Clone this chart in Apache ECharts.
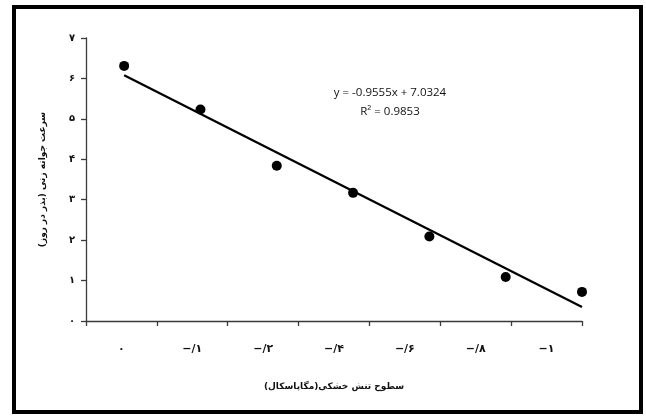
<!DOCTYPE html>
<html>
<head>
<meta charset="utf-8">
<script src="https://cdn.jsdelivr.net/npm/echarts@6/dist/echarts.min.js"></script>
<style>
  html, body { margin: 0; padding: 0; background: #fff; }
  #chart { width: 646px; height: 416px; }
</style>
</head>
<body>
<div id="chart"></div>
<script>
// Drought stress levels (MPa) shown as category labels
const stressLabels = ['۰', '−/۱', '−/۲', '−/۴', '−/۶', '−/۸', '−۱'];
// Position of each observation along the stress axis
const stressIndex = [1, 2, 3, 4, 5, 6, 7];
// Germination rate (seeds per day)
const germRate = [6.31, 5.23, 3.84, 3.17, 2.09, 1.09, 0.72];
// Y-axis tick labels in Persian digits
const rateTicks = ['۰', '۱', '۲', '۳', '۴', '۵', '۶', '۷'];
// Linear trend line fitted to the data
const slope = -0.9555;
const intercept = 7.0324;
const rSquared = 0.9853;

const faFont = 'DejaVu Sans';
const axisColor = '#3a3a3a';

const points = stressIndex.map((x, i) => [x, germRate[i]]);
const xFirst = stressIndex[0];
const xLast = stressIndex[stressIndex.length - 1];
const trend = [
  [xFirst, intercept + slope * xFirst],
  [xLast, intercept + slope * xLast]
];

const chart = echarts.init(document.getElementById('chart'), null, { renderer: 'canvas' });

chart.setOption({
  animation: false,
  backgroundColor: '#fff',
  grid: { left: 86, right: 64, top: 38, bottom: 95, containLabel: false },
  xAxis: [
    {
      type: 'category',
      data: stressLabels,
      boundaryGap: true,
      position: 'bottom',
      axisLine: { show: true, lineStyle: { color: axisColor, width: 1.3 } },
      axisTick: { show: true, length: 5, lineStyle: { color: axisColor, width: 1.3 } },
      axisLabel: {
        margin: 23,
        fontFamily: faFont,
        fontSize: 11,
        fontWeight: 'bold',
        color: '#111'
      },
      splitLine: { show: false },
      name: 'سطوح تنش خشکی(مگاپاسکال)\u200F',
      nameLocation: 'middle',
      nameGap: 61,
      nameTextStyle: { fontFamily: faFont, fontSize: 9, fontWeight: 'bold', color: '#111' }
    },
    {
      type: 'value',
      min: 0.5,
      max: 7,
      show: false
    }
  ],
  yAxis: {
    type: 'value',
    min: 0,
    max: 7,
    interval: 1,
    axisLine: { show: true, lineStyle: { color: axisColor, width: 1.3 } },
    axisTick: { show: true, length: 5, lineStyle: { color: axisColor, width: 1.3 } },
    splitLine: { show: false },
    axisLabel: {
      margin: 11,
      fontFamily: faFont,
      fontSize: 10,
      fontWeight: 'bold',
      color: '#111',
      formatter: v => rateTicks[v]
    },
    name: 'سرعت جوانه زنی (بذر در روز)\u200F',
    nameLocation: 'middle',
    nameRotate: 90,
    nameGap: 39,
    nameTextStyle: { fontFamily: faFont, fontSize: 9, fontWeight: 'bold', color: '#111' }
  },
  series: [
    {
      type: 'line',
      xAxisIndex: 1,
      data: trend,
      symbol: 'none',
      lineStyle: { color: '#000', width: 2.3 },
      silent: true
    },
    {
      type: 'scatter',
      xAxisIndex: 1,
      data: points,
      symbol: 'circle',
      symbolSize: 10,
      clip: false,
      itemStyle: { color: '#000', opacity: 1 }
    }
  ],
  graphic: [
    {
      type: 'rect',
      shape: { x: 14, y: 7, width: 627, height: 405 },
      style: { fill: 'none', stroke: '#000', lineWidth: 4 },
      silent: true
    },
    {
      type: 'text',
      x: 390,
      y: 93,
      style: {
        text: 'y = ' + slope + 'x + ' + intercept,
        fontFamily: 'Open Sans',
        fontSize: 11.5,
        fill: '#111',
        align: 'center',
        verticalAlign: 'middle'
      }
    },
    {
      type: 'text',
      x: 390,
      y: 112,
      style: {
        text: 'R² = ' + rSquared,
        fontFamily: 'Open Sans',
        fontSize: 11.5,
        fill: '#111',
        align: 'center',
        verticalAlign: 'middle'
      }
    }
  ]
});
</script>
</body>
</html>
